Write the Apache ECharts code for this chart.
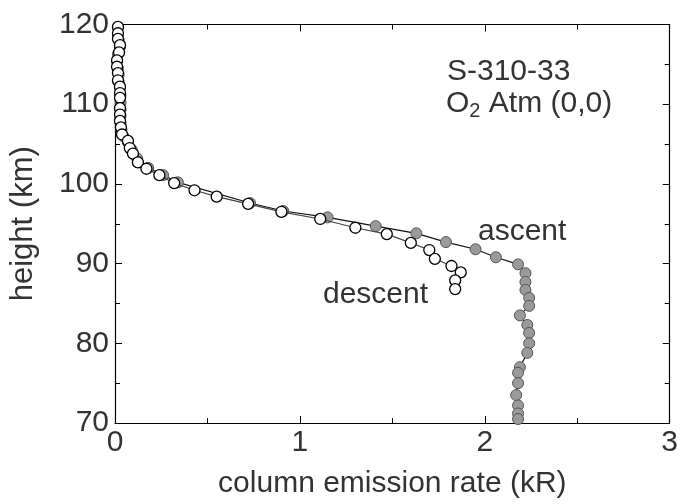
<!DOCTYPE html>
<html>
<head>
<meta charset="utf-8">
<script src="https://cdn.jsdelivr.net/npm/echarts@6/dist/echarts.min.js"></script>
<style>html,body{margin:0;padding:0;background:#fff}#c{width:681px;height:504px}</style>
</head>
<body>
<div id="c"></div>
<script>
// descent: [emission kR, height km]
const descentX = [0.016,0.016,0.016,0.027,0.022,0.011,0.011,0.016,0.016,0.027,0.027,0.027,0.027,0.027,0.027,0.032,0.038,0.07,0.08,0.097,0.124,0.17,0.24,0.32,0.43,0.55,0.72,0.90,1.11,1.30,1.47,1.60,1.70,1.73,1.82,1.87,1.84,1.84];
const descentH = [119.7,118.9,118.2,117.4,116.5,115.5,114.7,113.9,113.0,112.2,111.4,110.8,109.5,108.7,107.9,107.1,106.2,105.4,104.5,103.8,102.7,101.9,101.1,100.1,99.2,98.4,97.5,96.5,95.6,94.5,93.7,92.6,91.7,90.6,89.7,88.9,87.9,86.8];
// ascent
const ascentX = [0.016,0.016,0.02,0.027,0.016,0.011,0.016,0.02,0.02,0.027,0.03,0.03,0.03,0.03,0.03,0.035,0.045,0.07,0.09,0.12,0.18,0.26,0.34,0.73,0.91,1.15,1.41,1.63,1.79,1.95,2.06,2.18,2.22,2.22,2.22,2.24,2.24,2.19,2.23,2.24,2.24,2.23,2.19,2.18,2.18,2.17,2.18,2.18,2.18];
const ascentH = [119.6,118.8,118.0,117.2,116.3,115.4,114.5,113.7,112.8,112.0,111.1,110.2,109.3,108.5,107.6,106.8,106.0,105.2,104.3,103.2,102.0,101.1,100.2,97.6,96.6,95.8,94.7,93.8,92.7,91.8,90.8,89.9,88.8,87.7,86.7,85.7,84.7,83.5,82.3,81.3,80.0,78.8,77.0,76.3,75.0,73.5,72.2,71.2,70.5];
const xTicks = [0,1,2,3];
const yTicks = [70,80,90,100,110,120];

const FONT = '"Liberation Sans", Arial, sans-serif';
const TXT = '#333';
const chart = echarts.init(document.getElementById('c'), null, {renderer:'canvas'});
const zip = (a,b) => a.map((v,i)=>[v,b[i]]);
const axisCommon = {
  axisLine:{show:true, onZero:false, lineStyle:{color:'#000', width:1.2}},
  axisTick:{show:true, inside:true, length:7, lineStyle:{color:'#000'}},
  minorTick:{show:true, splitNumber:2, length:5, lineStyle:{color:'#000'}},
  splitLine:{show:false}
};
chart.setOption({
  animation:false,
  grid:{left:115, right:8, top:24.5, bottom:81},
  xAxis:[
    Object.assign({type:'value', min:xTicks[0], max:xTicks[xTicks.length-1], interval:1, position:'bottom',
      axisLabel:{color:TXT, fontFamily:FONT, fontSize:30, margin:5},
      name:'column emission rate (kR)', nameLocation:'middle', nameGap:46,
      nameTextStyle:{color:TXT, fontFamily:FONT, fontSize:30}}, axisCommon),
    Object.assign({type:'value', min:xTicks[0], max:xTicks[xTicks.length-1], interval:1, position:'top',
      axisLabel:{show:false}}, axisCommon)
  ],
  yAxis:[
    Object.assign({type:'value', min:yTicks[0], max:yTicks[yTicks.length-1], interval:10, position:'left',
      axisLabel:{color:TXT, fontFamily:FONT, fontSize:30, margin:6},
      name:'height (km)', nameLocation:'middle', nameGap:76, nameRotate:90,
      nameTextStyle:{color:TXT, fontFamily:FONT, fontSize:31}}, axisCommon),
    Object.assign({type:'value', min:yTicks[0], max:yTicks[yTicks.length-1], interval:10, position:'right',
      axisLabel:{show:false}}, axisCommon)
  ],
  series:[
    {type:'line', name:'ascent', data:zip(ascentX, ascentH), symbol:'circle', symbolSize:11,
     lineStyle:{color:'#111', width:1.2}, itemStyle:{color:'#9a9a9a', borderColor:'#555', borderWidth:1},
     z:2},
    {type:'line', name:'descent', data:zip(descentX, descentH), symbol:'circle', symbolSize:11,
     lineStyle:{color:'#444', width:1.2}, itemStyle:{color:'#fff', borderColor:'#000', borderWidth:1.3},
     z:3}
  ],
  graphic:[
    {type:'text', left:447, top:57, style:{text:'S-310-33', font:'30px '+FONT, fill:TXT}},
    {type:'text', left:446, top:89, style:{text:'O{s|2} Atm (0,0)', font:'30px '+FONT, fill:TXT,
      rich:{s:{fontSize:20, fontFamily:FONT, fill:TXT, verticalAlign:'bottom', padding:[14,0,0,0]}}}},
    {type:'text', left:478, top:217, style:{text:'ascent', font:'30px '+FONT, fill:TXT}},
    {type:'text', left:323, top:280, style:{text:'descent', font:'30px '+FONT, fill:TXT}}
  ]
});
</script>
</body>
</html>
